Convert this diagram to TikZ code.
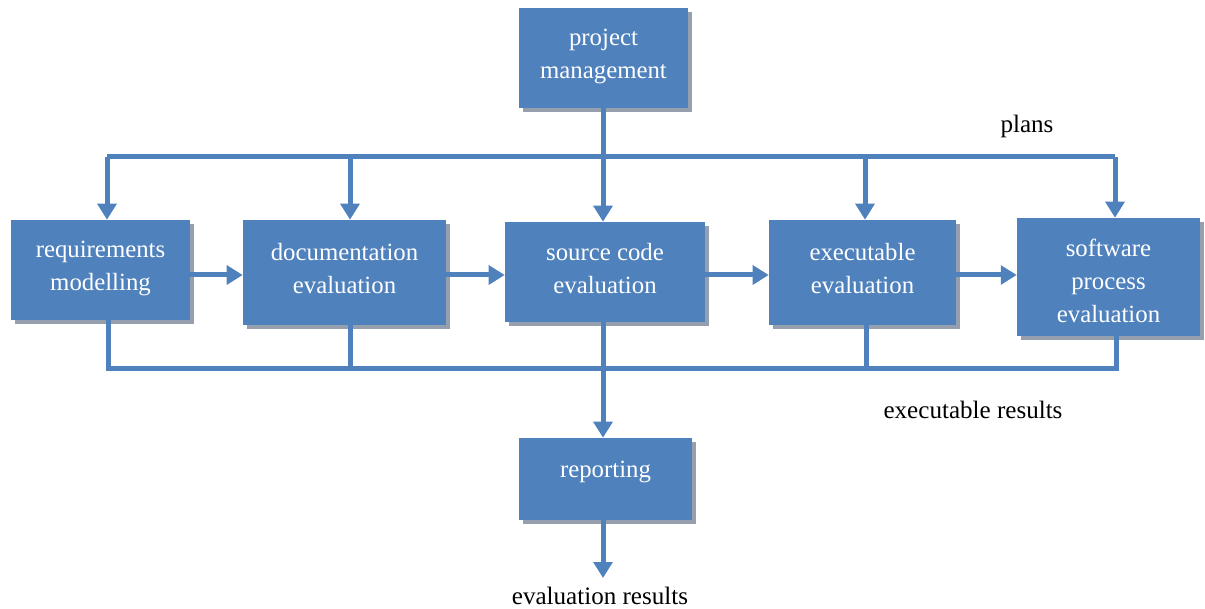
\documentclass[tikz,border=0pt]{standalone}
\usepackage{fontspec}
\setmainfont{Liberation Serif}
\usetikzlibrary{arrows.meta,shadows}
\definecolor{boxblue}{HTML}{4F81BD}
\definecolor{shadowgray}{HTML}{959FAD}
% empty trailing line that lifts the box text a little above centre
\newcommand\boxpad[1]{\\[#1]\mbox{}}
% empty leading line that drops the box text a little below centre
\newcommand\boxdrop[1]{\mbox{}\\[#1]}
\begin{document}
\begin{tikzpicture}[x=0.75pt,y=-0.75pt,
  box/.style={fill=boxblue,draw=none,text=white,align=center,
    inner sep=0pt,font=\fontsize{18.6}{24.8}\selectfont,
    drop shadow={shadow xshift=3.2pt,shadow yshift=-3.2pt,fill=shadowgray,opacity=1}},
  wire/.style={draw=boxblue,line width=3.75pt,line join=miter},
  arr/.style={wire,-{Triangle[width=14pt,length=12pt]}},
  lbl/.style={font=\fontsize{18.8}{22}\selectfont,text=black}]
\useasboundingbox (0,0) rectangle (1205,609);

% process boxes
\node[box,minimum width=126.75pt,minimum height=75pt] (pm) at (603.5,58) {project\\management\boxpad{-19pt}};
\node[box,minimum width=134.25pt,minimum height=75pt] (req) at (100.5,270) {requirements\\modelling\boxpad{-19pt}};
\node[box,minimum width=152.25pt,minimum height=78.75pt] (doc) at (344.5,272.5) {documentation\\evaluation\boxpad{-19pt}};
\node[box,minimum width=150pt,minimum height=75pt] (src) at (605,272) {source code\\evaluation\boxpad{-19pt}};
\node[box,minimum width=140.25pt,minimum height=78.75pt] (exe) at (862.5,272.5) {executable\\evaluation\boxpad{-19pt}};
\node[box,minimum width=137.25pt,minimum height=88.5pt] (swp) at (1108.5,277) {\boxdrop{-6pt}software\\process\\evaluation};
\node[box,minimum width=129.75pt,minimum height=61.5pt] (rep) at (605.5,479) {reporting\boxpad{-10pt}};

% helper coordinates
\coordinate (row) at (0,275);
\coordinate (d1) at (107,157);
\coordinate (d2) at (350,157);
\coordinate (d3) at (603,157);
\coordinate (d4) at (865,157);
\coordinate (d5) at (1115,157);
\coordinate (u1) at (108,368);
\coordinate (u2) at (350,368);
\coordinate (u3) at (603,368);
\coordinate (u4) at (866,368);
\coordinate (u5) at (1116,368);
\coordinate (out) at (603,578);

% plans distribution
\draw[arr] (pm.south -| d3) -- (d3 |- src.north);
\draw[wire] (d1) -- (d5);
\draw[arr] (d1) -- (d1 |- req.north);
\draw[arr] (d2) -- (d2 |- doc.north);
\draw[arr] (d4) -- (d4 |- exe.north);
\draw[arr] (d5) -- (d5 |- swp.north);

% evaluation chain
\draw[arr] (req.east |- row) -- (doc.west |- row);
\draw[arr] (doc.east |- row) -- (src.west |- row);
\draw[arr] (src.east |- row) -- (exe.west |- row);
\draw[arr] (exe.east |- row) -- (swp.west |- row);

% results collection
\draw[wire] (u1 |- req.south) -- (u1) -- (u5) -- (u5 |- swp.south);
\draw[wire] (u2 |- doc.south) -- (u2);
\draw[wire] (u4 |- exe.south) -- (u4);
\draw[arr] (u3 |- src.south) -- (u3 |- rep.north);
\draw[arr] (rep.south -| out) -- (out);

% labels
\node[lbl] (plans) at (1027,126) {plans};
\node[lbl] (exres) at (973,410) {executable results};
\node[lbl] (evres) at (600,596) {evaluation results};
\end{tikzpicture}
\end{document}
